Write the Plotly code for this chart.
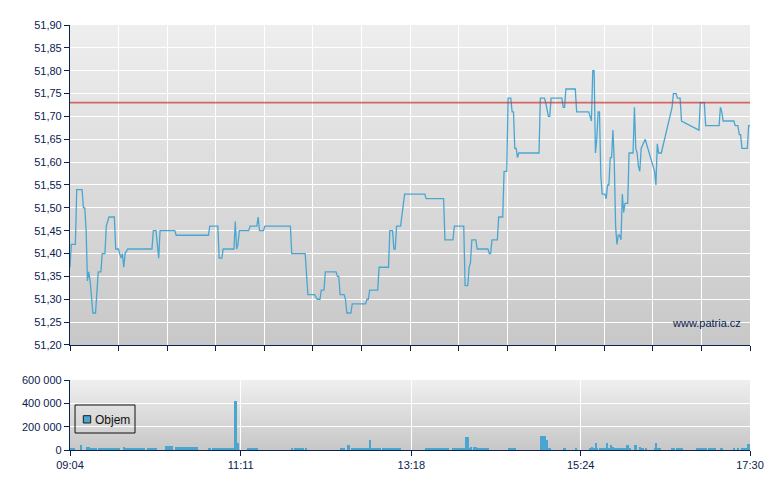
import pandas as pd
import plotly.graph_objects as go
from plotly.subplots import make_subplots

DAY = "2024-01-01 "

# intraday price (time, last price)
price_times = [
    "09:04", "09:05", "09:08", "09:09", "09:13", "09:14", "09:15", "09:16", "09:17", "09:18",
    "09:19", "09:20", "09:21", "09:23", "09:24", "09:25", "09:27", "09:28", "09:30", "09:31",
    "09:32", "09:33", "09:37", "09:38", "09:40", "09:42", "09:43", "09:44", "09:45", "09:47",
    "10:05", "10:06", "10:08", "10:10", "10:11", "10:22", "10:23", "10:47", "10:48", "10:54",
    "10:55", "10:57", "10:58", "11:06", "11:07", "11:08", "11:09", "11:10", "11:17", "11:18",
    "11:23", "11:24", "11:25", "11:28", "11:29", "11:48", "11:49", "11:59", "12:01", "12:06",
    "12:08", "12:10", "12:11", "12:13", "12:14", "12:22", "12:23", "12:24", "12:25", "12:28",
    "12:29", "12:30", "12:33", "12:34", "12:44", "12:45", "12:46", "12:47", "12:53", "12:54",
    "13:01", "13:02", "13:04", "13:05", "13:06", "13:07", "13:10", "13:13", "13:28", "13:29",
    "13:42", "13:43", "13:49", "13:50", "13:57", "13:58", "14:00", "14:01", "14:02", "14:03",
    "14:06", "14:07", "14:15", "14:16", "14:17", "14:18", "14:22", "14:23", "14:26", "14:27",
    "14:29", "14:30", "14:32", "14:33", "14:34", "14:35", "14:36", "14:37", "14:38", "14:53",
    "14:54", "14:57", "14:58", "15:00", "15:01", "15:02", "15:10", "15:11", "15:12", "15:13",
    "15:20", "15:21", "15:30", "15:31", "15:32", "15:33", "15:34", "15:35", "15:36", "15:37",
    "15:38", "15:39", "15:40", "15:42", "15:43", "15:44", "15:45", "15:46", "15:47", "15:48",
    "15:49", "15:50", "15:51", "15:52", "15:53", "15:54", "15:55", "15:56", "15:57", "15:59",
    "16:00", "16:03", "16:04", "16:05", "16:06", "16:07", "16:08", "16:09", "16:12", "16:19",
    "16:20", "16:21", "16:22", "16:24", "16:32", "16:33", "16:35", "16:36", "16:38", "16:39",
    "16:51", "16:52", "16:53", "16:56", "16:57", "17:07", "17:08", "17:09", "17:10", "17:18",
    "17:19", "17:21", "17:22", "17:23", "17:24", "17:28", "17:29", "17:30",
]
prices = [
    51.37, 51.42, 51.42, 51.54, 51.54, 51.50, 51.50, 51.45, 51.34, 51.36,
    51.34, 51.30, 51.27, 51.27, 51.31, 51.36, 51.36, 51.40, 51.40, 51.46,
    51.47, 51.48, 51.48, 51.41, 51.41, 51.39, 51.40, 51.37, 51.40, 51.41,
    51.41, 51.45, 51.45, 51.39, 51.45, 51.45, 51.44, 51.44, 51.46, 51.46,
    51.39, 51.39, 51.41, 51.41, 51.47, 51.41, 51.42, 51.45, 51.45, 51.46,
    51.46, 51.48, 51.45, 51.45, 51.46, 51.46, 51.40, 51.40, 51.31, 51.31,
    51.30, 51.30, 51.32, 51.32, 51.36, 51.36, 51.35, 51.35, 51.31, 51.31,
    51.30, 51.27, 51.27, 51.29, 51.29, 51.30, 51.30, 51.32, 51.32, 51.37,
    51.37, 51.45, 51.45, 51.41, 51.41, 51.46, 51.46, 51.53, 51.53, 51.52,
    51.52, 51.43, 51.43, 51.46, 51.46, 51.33, 51.33, 51.37, 51.38, 51.43,
    51.43, 51.41, 51.41, 51.40, 51.40, 51.43, 51.43, 51.48, 51.48, 51.58,
    51.58, 51.74, 51.74, 51.71, 51.71, 51.63, 51.63, 51.61, 51.62, 51.62,
    51.74, 51.74, 51.73, 51.70, 51.70, 51.74, 51.74, 51.72, 51.72, 51.76,
    51.76, 51.71, 51.71, 51.70, 51.69, 51.80, 51.80, 51.62, 51.65, 51.71,
    51.71, 51.57, 51.53, 51.53, 51.52, 51.55, 51.55, 51.61, 51.61, 51.67,
    51.60, 51.46, 51.42, 51.44, 51.44, 51.43, 51.53, 51.49, 51.51, 51.51,
    51.62, 51.62, 51.72, 51.63, 51.62, 51.59, 51.58, 51.63, 51.65, 51.58,
    51.55, 51.64, 51.62, 51.62, 51.72, 51.75, 51.75, 51.74, 51.74, 51.69,
    51.67, 51.67, 51.73, 51.73, 51.68, 51.68, 51.72, 51.71, 51.69, 51.69,
    51.68, 51.68, 51.66, 51.66, 51.63, 51.63, 51.68, 51.68,
]
prev_close = 51.73

# traded volume per interval
vol_start = [
    "09:04", "09:12", "09:16", "09:17", "09:18", "09:19", "09:25", "09:26", "09:44", "09:45",
    "10:01", "10:15", "10:22", "10:47", "10:50", "10:54", "11:06", "11:08", "11:16", "11:23",
    "11:49", "11:51", "11:59", "12:25", "12:30", "12:33", "12:47", "12:48", "12:49", "12:54",
    "12:56", "13:28", "13:42", "13:48", "13:58", "14:01", "14:02", "14:04", "14:07", "14:30",
    "14:32", "14:54", "14:58", "15:00", "15:01", "15:11", "15:20", "15:30", "15:32", "15:33",
    "15:35", "15:36", "15:38", "15:41", "15:43", "15:44", "15:46", "15:47", "15:49", "15:50",
    "15:51", "15:58", "16:00", "16:04", "16:08", "16:09", "16:12", "16:19", "16:20", "16:21",
    "16:31", "16:33", "16:35", "16:36", "16:50", "16:59", "17:08", "17:09", "17:18", "17:20",
    "17:23", "17:28",
]
vol_end = [
    "09:08", "09:13", "09:17", "09:18", "09:19", "09:24", "09:26", "09:41", "09:45", "10:00",
    "10:09", "10:21", "10:39", "10:49", "10:54", "11:06", "11:08", "11:10", "11:23", "11:24",
    "11:50", "11:58", "12:00", "12:29", "12:32", "12:47", "12:48", "12:49", "12:54", "12:55",
    "13:10", "13:42", "13:46", "13:58", "14:01", "14:02", "14:03", "14:07", "14:16", "14:32",
    "14:36", "14:58", "15:00", "15:01", "15:02", "15:13", "15:21", "15:32", "15:33", "15:35",
    "15:36", "15:37", "15:41", "15:43", "15:44", "15:46", "15:47", "15:49", "15:50", "15:51",
    "15:58", "16:00", "16:01", "16:06", "16:09", "16:11", "16:13", "16:20", "16:21", "16:24",
    "16:33", "16:34", "16:36", "16:40", "16:58", "17:05", "17:09", "17:10", "17:19", "17:22",
    "17:28", "17:30",
]
volumes = [
    9000, 43000, 23000, 14000, 23000, 9000, 14000, 9000, 23000, 9000,
    9000, 34000, 26000, 17000, 17000, 9000, 420000, 60000, 9000, 20000,
    9000, 9000, 9000, 9000, 43000, 9000, 86000, 20000, 20000, 9000,
    9000, 20000, 9000, 9000, 111000, 9000, 26000, 26000, 9000, 9000,
    20000, 123000, 89000, 9000, 17000, 9000, 9000, 9000, 26000, 9000,
    63000, 9000, 9000, 9000, 63000, 9000, 43000, 26000, 9000, 17000,
    9000, 43000, 9000, 43000, 26000, 9000, 9000, 9000, 63000, 9000,
    9000, 17000, 17000, 9000, 9000, 9000, 9000, 9000, 9000, 9000,
    9000, 54000,
]

x_labels = ["09:04", "11:11", "13:18", "15:24", "17:30"]

navy = "#0b2150"
blue = "#4aa6d0"
font = "Liberation Sans, Arial, sans-serif"

t = pd.to_datetime([DAY + s for s in price_times])
vs = pd.to_datetime([DAY + s for s in vol_start])
ve = pd.to_datetime([DAY + s for s in vol_end])
vol_mid = vs + (ve - vs) / 2
vol_width = [(b - a).total_seconds() * 1000 for a, b in zip(vs, ve)]

t0 = pd.Timestamp(DAY + x_labels[0])
t1 = pd.Timestamp(DAY + x_labels[-1])
top_ticks = [t0 + (t1 - t0) * k / 14 for k in range(15)]
bottom_ticks = [pd.Timestamp(DAY + s) for s in x_labels]

fig = make_subplots(rows=2, cols=1)

fig.add_trace(go.Scatter(x=t, y=prices, mode="lines", line=dict(color=blue, width=1.3),
                         showlegend=False, hoverinfo="skip"), row=1, col=1)
fig.add_trace(go.Bar(x=vol_mid, y=volumes, width=vol_width, marker=dict(color=blue, line=dict(width=0)),
                     showlegend=False), row=2, col=1)


# gradient backgrounds: each band reaches the bottom so no seams show
def gradient(yref, xref, n=40):
    for i in range(n):
        c = round(238 - (238 - 200) * i / (n - 1))
        fig.add_shape(type="rect", xref=xref + " domain", yref=yref + " domain", x0=0, x1=1,
                      y0=0, y1=1 - i / n,
                      fillcolor=f"rgb({c},{c},{c})", line=dict(width=0), layer="below")


gradient("y", "x")
gradient("y2", "x2", n=20)

fig.add_shape(type="line", xref="x domain", yref="y", x0=0, x1=1, y0=prev_close, y1=prev_close,
              line=dict(color="rgba(205,50,50,0.7)", width=1.8))

fig.add_annotation(text="www.patria.cz", xref="x domain", yref="y domain", x=0.99, y=0.045,
                   xanchor="right", yanchor="bottom", showarrow=False,
                   font=dict(family=font, size=11, color=navy))

# legend box for the volume chart, drawn by hand
fig.add_shape(type="rect", xref="paper", yref="paper", x0=0.0074, x1=0.0956, y0=0.04, y1=0.1059,
              line=dict(color="#111111", width=1), fillcolor="rgba(0,0,0,0)")
fig.add_shape(type="rect", xref="paper", yref="paper", x0=0.0196, x1=0.0304, y0=0.0635, y1=0.0807,
              line=dict(color="#1a1a1a", width=1), fillcolor=blue)
fig.add_annotation(text="Objem", xref="paper", yref="paper", x=0.034, y=0.0715,
                   xanchor="left", yanchor="middle", showarrow=False,
                   font=dict(family=font, size=12, color="#111111"))

axis_common = dict(showline=True, linecolor=navy, linewidth=1.2, ticks="outside", tickcolor=navy,
                   ticklen=5, gridcolor="white", gridwidth=1.2, zeroline=False,
                   tickfont=dict(family=font, size=11, color=navy))

fig.update_xaxes(range=[t0, t1], tickvals=top_ticks, showticklabels=False, row=1, col=1, **axis_common)
fig.update_xaxes(range=[t0, t1], tickvals=bottom_ticks, ticktext=x_labels, row=2, col=1, **axis_common)
fig.update_yaxes(range=[51.20, 51.90], dtick=0.05, tick0=51.20, tickformat=".2f",
                 domain=[0.2471, 1.0], row=1, col=1, **axis_common)
fig.update_yaxes(range=[0, 600000], dtick=200000, tickformat=",.0f",
                 domain=[0.0, 0.1647], row=2, col=1, **axis_common)

fig.update_layout(
    width=780, height=490,
    margin=dict(l=62, r=38, t=17, b=48),
    paper_bgcolor="white", plot_bgcolor="rgba(0,0,0,0)",
    separators=", ",
    bargap=0,
    showlegend=False,
)

fig.write_html("out.html")
